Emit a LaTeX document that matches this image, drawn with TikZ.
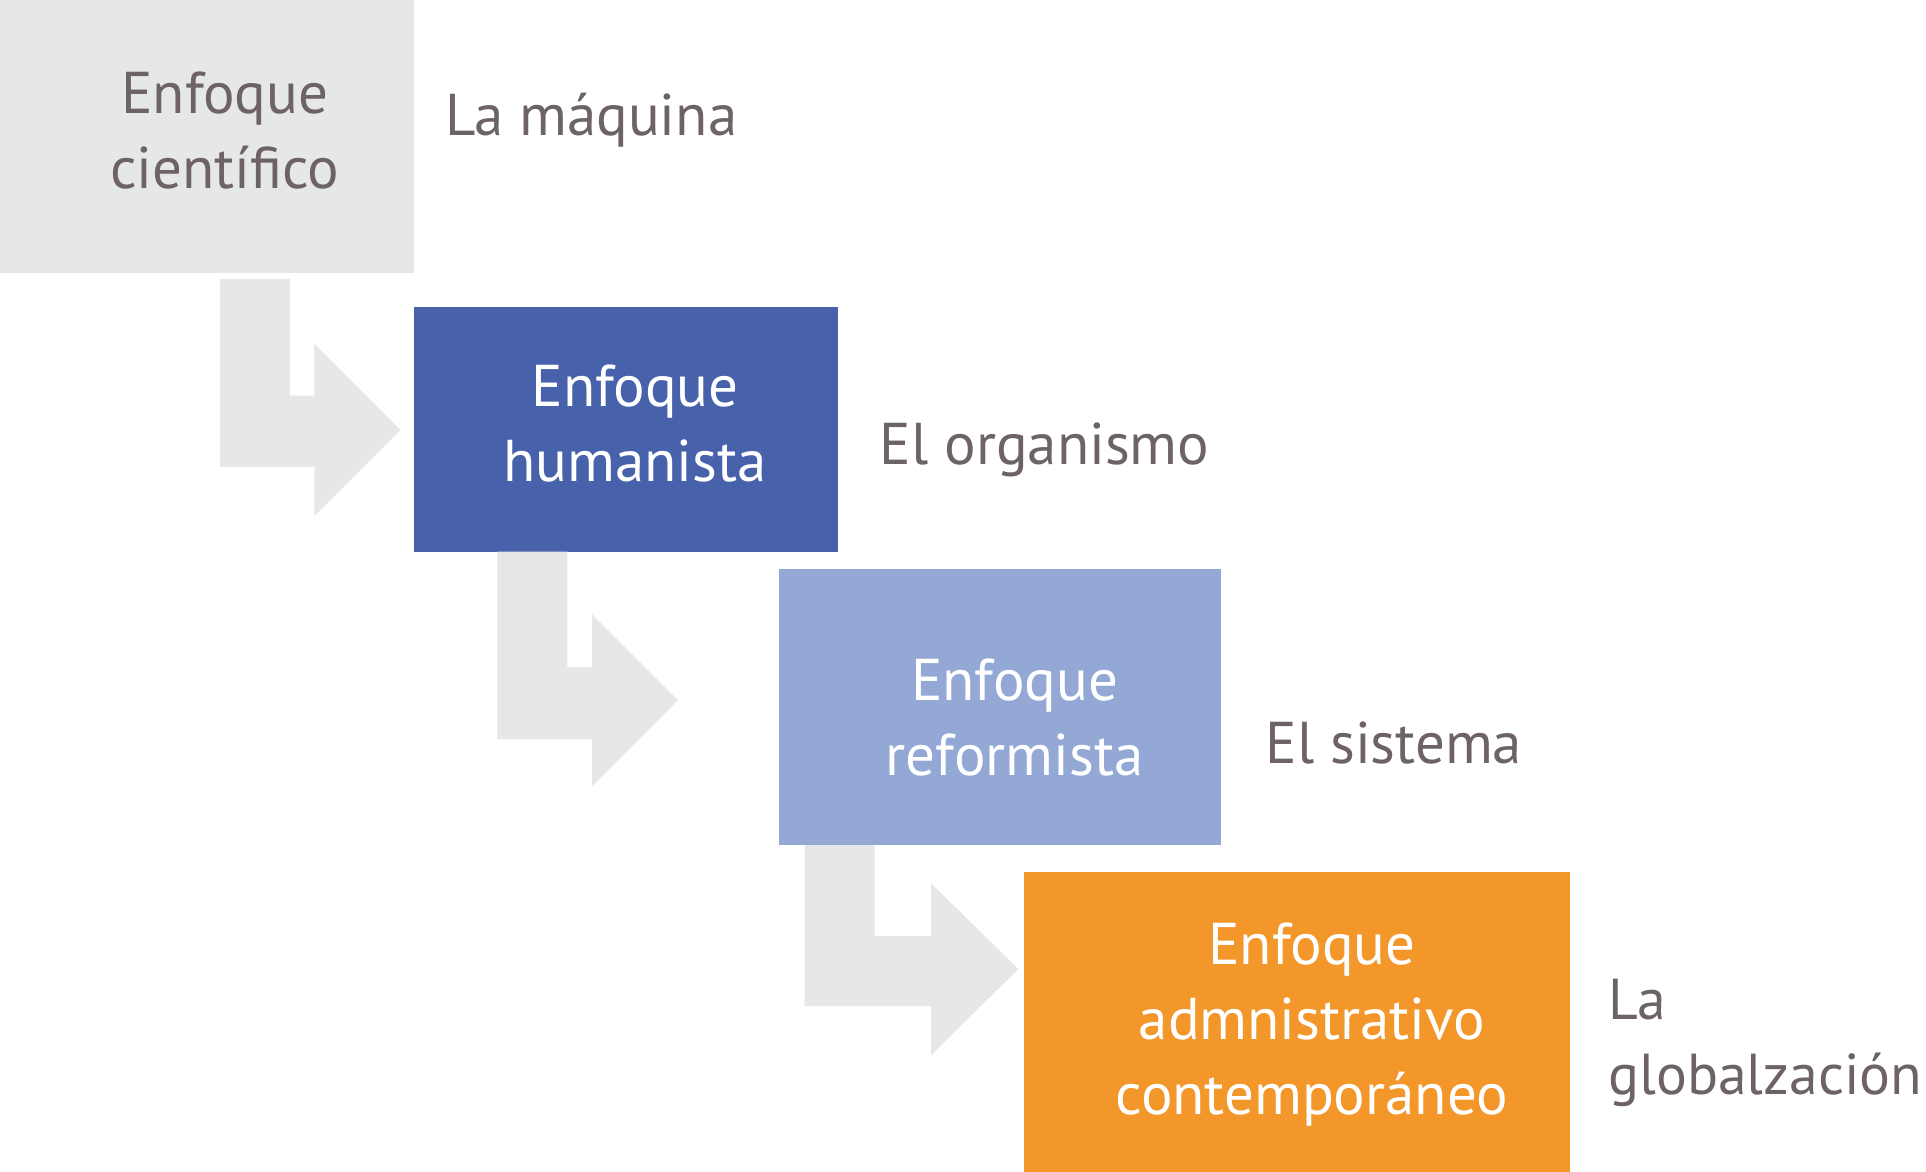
\documentclass[tikz,border=0pt]{standalone}
\usepackage{fontspec}
\setmainfont{PT Sans}
\definecolor{txt}{HTML}{6D6264}
\definecolor{lgray}{HTML}{E6E7E8}
\definecolor{dblue}{HTML}{4762AB}
\definecolor{lblue}{HTML}{94A8D6}
\definecolor{orng}{HTML}{F3972B}
\begin{document}
\begin{tikzpicture}[x=0.5pt,y=-0.5pt,
  lab/.style={font=\fontsize{24}{30.5}\selectfont,text=txt,anchor=west,align=left,inner sep=0},
  btxt/.style={font=\fontsize{24}{30.5}\selectfont,align=center,inner sep=0},
  arr/.style={fill=lgray,draw=none}]
\useasboundingbox (0,0) rectangle (1568,954);
\fill[lgray] (0,0) rectangle (337,222);
\node[btxt,text=txt] (b1) at (183,106) {Enfoque\\científico};
\node[lab] (l1) at (362,98) {La máquina};
\fill[arr] (179,227)--(236,227)--(236,322)--(256,322)--(256,280)--(326,350)--(256,420)--(256,380)--(179,380)--cycle;
\fill[dblue] (337,250) rectangle (682,449);
\node[btxt,text=white] (b2) at (517,345) {Enfoque\\humanista};
\node[lab] (l2) at (716,366) {El organismo};
\fill[arr] (405,449)--(462,449)--(462,543)--(482,543)--(482,500)--(552,570)--(482,640)--(482,602)--(405,602)--cycle;
\fill[lblue] (634,463) rectangle (994,688);
\node[btxt,text=white] (b3) at (826,584) {Enfoque\\reformista};
\node[lab] (l3) at (1030,605) {El sistema};
\fill[arr] (655,688)--(712,688)--(712,762)--(758,762)--(758,719)--(829,789)--(758,859)--(758,819)--(655,819)--cycle;
\fill[orng] (834,710) rectangle (1278,954);
\node[btxt,text=white] (b4) at (1068,834) {Enfoque\\admnistrativo\\contemporáneo};
\node[lab,font=\fontsize{23.5}{30.5}\selectfont] (l4) at (1309,849) {La\\globalzación};
\end{tikzpicture}
\end{document}
